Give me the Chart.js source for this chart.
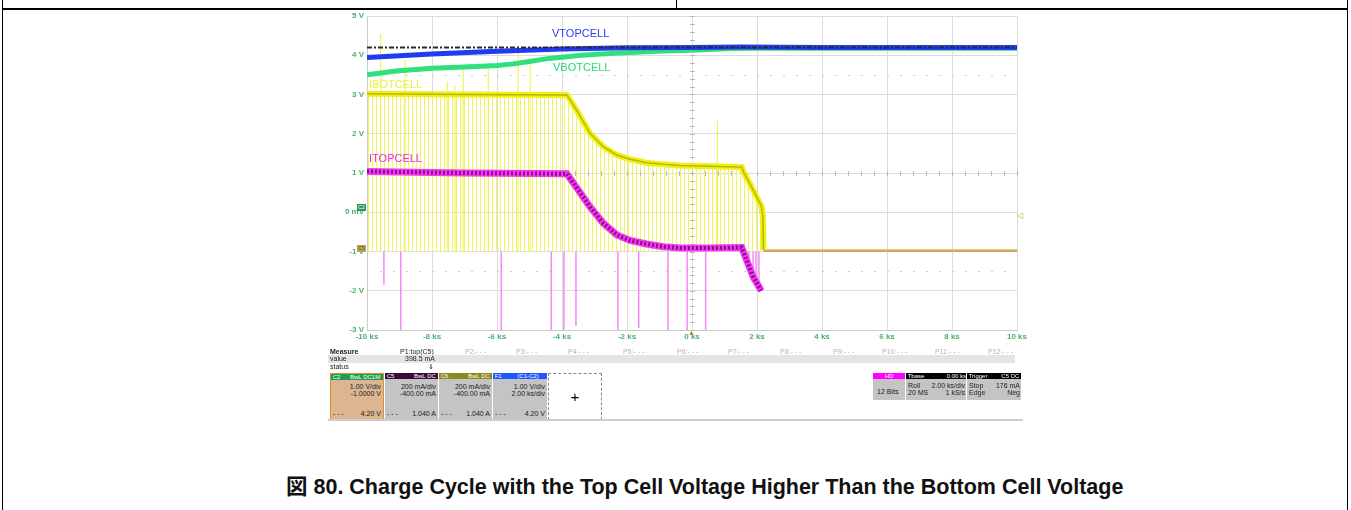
<!DOCTYPE html>
<html>
<head>
<meta charset="utf-8">
<script src="https://cdn.jsdelivr.net/npm/chart.js@4"></script>
<style>
body { margin: 0; background: #fff; font-family: "Liberation Sans", Arial, sans-serif; }
#page { position: relative; width: 1351px; height: 510px; overflow: hidden; }
.abs { position: absolute; white-space: nowrap; }
.line { position: absolute; background: #000; }
.p { position: absolute; white-space: nowrap; font-size: 7px; line-height: 8px; color: #222; }
.g { color: #b0b0b0; }
.box { position: absolute; background: #c4c4c4; }
.hdr { position: absolute; left: 0; top: 0; right: 0; height: 6px; color: #fff; font-size: 6px; line-height: 6px; }
.r { text-align: right; }
.tag { position: absolute; font-size: 11px; line-height: 12px; }
</style>
</head>
<body>
<div id="page">
  <!-- page frame -->
  <div class="line" style="left:2px; top:8px; width:1346px; height:2px;"></div>
  <div class="line" style="left:676px; top:0; width:1px; height:9px;"></div>
  <div class="line" style="left:2px; top:0; width:1px; height:510px;"></div>
  <div class="line" style="left:1347px; top:0; width:1px; height:510px;"></div>

  <div class="abs" style="left:300px; top:0; width:760px; height:350px;">
    <canvas id="scope"></canvas>
  </div>

  <!-- trace names -->
  <div class="tag" style="left:552px; top:27px; color:#2a3cf0;">VTOPCELL</div>
  <div class="tag" style="left:553px; top:61px; color:#2ad878;">VBOTCELL</div>
  <div class="tag" style="left:369px; top:78px; color:#eded3a;">IBOTCELL</div>
  <div class="tag" style="left:369px; top:152px; color:#ea28ea;">ITOPCELL</div>

  <!-- channel markers -->
  <div class="abs" style="left:357px; top:204px; width:9px; height:7px; background:#2a9a55; color:#fff; font-size:5px; line-height:7px; text-align:center;">C2</div>
  <div class="abs" style="left:357px; top:245px; width:9px; height:7px; background:#b5a94a; color:#6a3a6a; font-size:5px; line-height:7px; text-align:center;">C5</div>
  <div class="abs" style="left:1017px; top:211px; color:#b8a84a; font-size:8px;">&#9665;</div>
  <div class="abs" style="left:688px; top:329px; color:#8c8c30; font-size:7px;">&#9650;</div>

  <!-- measurement panel -->
  <div class="p" style="left:330px; top:348px; font-weight:bold;">Measure</div>
  <div class="p" style="left:400px; top:348px;">P1:top(C5)</div>
  <div class="p g" style="left:465px; top:348px;">P2:- - -</div>
  <div class="p g" style="left:516px; top:348px;">P3:- - -</div>
  <div class="p g" style="left:568px; top:348px;">P4:- - -</div>
  <div class="p g" style="left:623px; top:348px;">P5:- - -</div>
  <div class="p g" style="left:677px; top:348px;">P6:- - -</div>
  <div class="p g" style="left:728px; top:348px;">P7:- - -</div>
  <div class="p g" style="left:780px; top:348px;">P8:- - -</div>
  <div class="p g" style="left:833px; top:348px;">P9:- - -</div>
  <div class="p g" style="left:882px; top:348px;">P10:- - -</div>
  <div class="p g" style="left:935px; top:348px;">P11:- - -</div>
  <div class="p g" style="left:988px; top:348px;">P12:- - -</div>
  <div class="abs" style="left:328px; top:355px; width:687px; height:8px; background:#e4e4e4;"></div>
  <div class="p" style="left:330px; top:355px;">value</div>
  <div class="p r" style="left:380px; top:355px; width:55px;">398.5 mA</div>
  <div class="p" style="left:330px; top:363px;">status</div>
  <div class="p" style="left:428px; top:363px;">&#8659;</div>

  <div class="box" style="left:330px; top:373px; width:52px; height:45px; background:#dbb690; border:1px solid #e88a2e;">
    <div class="hdr" style="background:#1f9c4e;">&nbsp;C2 <span style="margin-left:8px;">BwL DC1M</span></div>
    <div class="p r" style="left:0; top:9px; width:50px;">1.00 V/div</div>
    <div class="p r" style="left:0; top:16px; width:50px;">-1.0000 V</div>
    <div class="p" style="left:2px; top:36px;">- - -</div>
    <div class="p r" style="left:0; top:36px; width:50px;">4.20 V</div>
  </div>
  <div class="box" style="left:385px; top:373px; width:53px; height:46px;">
    <div class="hdr" style="background:#3a0c38;">&nbsp;C5 <span style="margin-left:18px;">BwL DC</span></div>
    <div class="p r" style="left:0; top:10px; width:51px;">200 mA/div</div>
    <div class="p r" style="left:0; top:17px; width:51px;">-400.00 mA</div>
    <div class="p" style="left:2px; top:37px;">- - -</div>
    <div class="p r" style="left:0; top:37px; width:51px;">1.040 A</div>
  </div>
  <div class="box" style="left:439px; top:373px; width:53px; height:46px;">
    <div class="hdr" style="background:#8a8a1e;">&nbsp;C6 <span style="margin-left:18px;">BwL DC</span></div>
    <div class="p r" style="left:0; top:10px; width:51px;">200 mA/div</div>
    <div class="p r" style="left:0; top:17px; width:51px;">-400.00 mA</div>
    <div class="p" style="left:2px; top:37px;">- - -</div>
    <div class="p r" style="left:0; top:37px; width:51px;">1.040 A</div>
  </div>
  <div class="box" style="left:493px; top:373px; width:54px; height:46px;">
    <div class="hdr" style="background:#2058ff;">&nbsp;F1 <span style="margin-left:14px;">(C1-C2)</span></div>
    <div class="p r" style="left:0; top:10px; width:52px;">1.00 V/div</div>
    <div class="p r" style="left:0; top:17px; width:52px;">2.00 ks/div</div>
    <div class="p" style="left:2px; top:37px;">- - -</div>
    <div class="p r" style="left:0; top:37px; width:52px;">4.20 V</div>
  </div>
  <div class="abs" style="left:548px; top:373px; width:52px; height:45px; border:1px dashed #888; background:#fff; text-align:center; font-size:15px; line-height:45px;">+</div>

  <div class="box" style="left:873px; top:373px; width:32px; height:27px;">
    <div class="hdr" style="background:#ff00ff; text-align:center;">HD</div>
    <div class="p" style="left:4px; top:15px;">12 Bits</div>
  </div>
  <div class="box" style="left:906px; top:373px; width:60px; height:27px;">
    <div class="hdr" style="background:#000;">&nbsp;Tbase <span style="float:right;">0.00 ks</span></div>
    <div class="p" style="left:2px; top:9px;">Roll</div>
    <div class="p r" style="left:0; top:9px; width:59px;">2.00 ks/div</div>
    <div class="p" style="left:2px; top:16px;">20 MS</div>
    <div class="p r" style="left:0; top:16px; width:59px;">1 kS/s</div>
  </div>
  <div class="box" style="left:967px; top:373px; width:54px; height:27px;">
    <div class="hdr" style="background:#000;">&nbsp;Trigger <span style="float:right;">C5 DC&nbsp;</span></div>
    <div class="p" style="left:2px; top:9px;">Stop</div>
    <div class="p r" style="left:0; top:9px; width:53px;">176 mA</div>
    <div class="p" style="left:2px; top:16px;">Edge</div>
    <div class="p r" style="left:0; top:16px; width:53px;">Neg</div>
  </div>
  <div class="abs" style="left:328px; top:419px; width:695px; height:2px; background:#cccccc;"></div>

  <!-- caption -->
  <div class="abs" style="left:286px; top:475px; font-size:21.5px; line-height:24px; font-weight:bold; color:#111; font-family:'Liberation Sans','Noto Sans CJK JP',sans-serif;">図 80. Charge Cycle with the Top Cell Voltage Higher Than the Bottom Cell Voltage</div>
</div>

<script>
// axis ticks
const timeTicks = [-10, -8, -6, -4, -2, 0, 2, 4, 6, 8, 10];
const voltTicks = [-3, -2, -1, 0, 1, 2, 3, 4, 5];

// reference level (dash-dot)
const refTime = [-10, 10];
const refVolts = [4.2, 4.2];

// VTOPCELL
const vTopTime = [-10, -8, -6, -4, -2, 0, 1.5, 4, 10];
const vTopVolts = [3.94, 4.03, 4.10, 4.16, 4.19, 4.2, 4.21, 4.2, 4.2];

// VBOTCELL
const vBotTime = [-10, -9.1, -8, -7, -6, -5.5, -5, -4.4, -3.4, -2.4, -0.9, 0, 1.2, 2, 4, 10];
const vBotVolts = [3.50, 3.60, 3.67, 3.70, 3.74, 3.78, 3.84, 3.92, 4.00, 4.05, 4.11, 4.13, 4.17, 4.18, 4.18, 4.18];

// IBOTCELL
const iBotTime = [-10, -7, -3.85, -3.55, -3.14, -2.73, -2.32, -1.9, -1.4, -0.9, -0.37, 0.5, 1.53, 1.57, 1.88, 2.14, 2.18, 2.2];
const iBotVolts = [3.02, 3.0, 2.99, 2.6, 2.01, 1.67, 1.46, 1.35, 1.26, 1.22, 1.19, 1.17, 1.15, 1.05, 0.57, 0.15, -0.1, -0.96];
const iBotTailTime = [2.2, 10];
const iBotTailVolts = [-0.97, -0.97];

// ITOPCELL
const iTopTime = [-10, -7, -3.85, -3.57, -3.14, -2.73, -2.31, -1.9, -1.4, -0.88, -0.37, 0.5, 1.53, 1.7, 1.88, 2.13];
const iTopVolts = [1.04, 1.0, 0.98, 0.65, 0.14, -0.28, -0.58, -0.72, -0.81, -0.88, -0.91, -0.91, -0.9, -1.26, -1.64, -2.0];
const iTopTailTime = [2.2, 10];
const iTopTailVolts = [-0.99, -0.99];

// glitches
const spikeBase = -1;
const pinkSpikeTime = [-9.48, -8.96, -5.87, -4.33, -3.94, -3.57, -2.28, -1.64, -0.74, -0.15, 0.42, 1.75, 1.88, 1.97, 2.06];
const pinkSpikeLow = [-1.85, -3.0, -3.0, -3.0, -3.0, -2.9, -3.0, -2.95, -3.0, -3.0, -3.0, -1.5, -1.7, -1.75, -1.8];
const yellowSpikeTime = [-9.58, -8.83, -7.53, -7.29, -7.04, -6.27, -5.35, -4.98, 0.78];
const yellowSpikeTop = [4.54, 3.88, 3.33, 3.24, 3.69, 3.79, 4.18, 3.79, 2.35];

const pts = (xs, ys) => xs.map((x, i) => ({ x: x, y: ys[i] }));
const spikes = (xs, ends) => {
    const out = [];
    xs.forEach((x, i) => {
        out.push({ x: x, y: spikeBase }, { x: x, y: ends[i] }, { x: x, y: null });
    });
    return out;
};

// vertical hatch under the bottom-cell current trace
const stripe = document.createElement('canvas');
stripe.width = 4;
stripe.height = 4;
const sctx = stripe.getContext('2d');
sctx.fillStyle = '#f3f35a';
sctx.fillRect(0, 0, 1, 4);
const stripePattern = sctx.createPattern(stripe, 'repeat');

const tickGreen = '#4cae6c';
const fontFamily = "'Liberation Sans', Arial, sans-serif";

// center-line ticks and dotted rows like the scope graticule
const scopeGrid = {
    id: 'scopeGrid',
    beforeDatasetsDraw(chart) {
        const { ctx, scales: { x, y } } = chart;
        ctx.save();
        ctx.fillStyle = '#b8b8b8';
        const x0 = Math.round(x.getPixelForValue(0));
        const y1 = Math.round(y.getPixelForValue(1));
        for (let v = -3; v <= 5.001; v += 0.2) {
            ctx.fillRect(x0 - 2, Math.round(y.getPixelForValue(v)), 5, 1);
        }
        for (let t = -10; t <= 10.001; t += 0.4) {
            ctx.fillRect(Math.round(x.getPixelForValue(t)), y1 - 2, 1, 5);
        }
        ctx.fillStyle = '#cfcfcf';
        [3.5, -1.5].forEach(v => {
            const py = Math.round(y.getPixelForValue(v));
            for (let t = -9.6; t <= 10; t += 0.4) {
                ctx.fillRect(Math.round(x.getPixelForValue(t)), py, 2, 1);
            }
        });
        ctx.restore();
    }
};

const lineBase = { pointRadius: 0, tension: 0, fill: false, spanGaps: false, borderCapStyle: 'butt' };

new Chart(document.getElementById('scope'), {
    type: 'line',
    data: {
        datasets: [
            Object.assign({ data: pts(refTime, refVolts), borderColor: '#2a2a2a', borderWidth: 2, borderDash: [5, 2, 2, 2] }, lineBase),
            Object.assign({ data: pts(vTopTime, vTopVolts), borderColor: '#1f3cf2', borderWidth: 5 }, lineBase),
            Object.assign({ data: pts(vBotTime, vBotVolts), borderColor: '#2fe07c', borderWidth: 5 }, lineBase),
            Object.assign({ data: pts(iBotTime, iBotVolts), borderColor: '#b7b700', borderWidth: 1.5 }, lineBase),
            Object.assign({}, lineBase, { data: pts(iBotTime, iBotVolts), borderColor: '#f0f018', borderWidth: 6, fill: { value: spikeBase }, backgroundColor: stripePattern }),
            Object.assign({ data: pts(iBotTailTime, iBotTailVolts), borderColor: '#c4c428', borderWidth: 2 }, lineBase),
            Object.assign({ data: pts(iTopTime, iTopVolts), borderColor: '#98009a', borderWidth: 4, borderDash: [2, 2] }, lineBase),
            Object.assign({ data: pts(iTopTime, iTopVolts), borderColor: '#ee3cee', borderWidth: 7 }, lineBase),
            Object.assign({ data: pts(iTopTailTime, iTopTailVolts), borderColor: '#e456e4', borderWidth: 1.5 }, lineBase),
            Object.assign({ data: spikes(pinkSpikeTime, pinkSpikeLow), borderColor: '#f28af2', borderWidth: 1.5 }, lineBase),
            Object.assign({ data: spikes(yellowSpikeTime, yellowSpikeTop), borderColor: '#f0f040', borderWidth: 1 }, lineBase)
        ]
    },
    options: {
        responsive: true,
        maintainAspectRatio: false,
        animation: false,
        layout: { padding: { left: 0, top: 16, right: 43, bottom: 0 } },
        plugins: {
            legend: { display: false },
            tooltip: { enabled: false },
            filler: { drawTime: 'beforeDatasetsDraw' }
        },
        scales: {
            x: {
                type: 'linear',
                min: timeTicks[0],
                max: timeTicks[timeTicks.length - 1],
                afterBuildTicks: scale => { scale.ticks = timeTicks.map(v => ({ value: v })); },
                afterFit: scale => { scale.height = 20; },
                ticks: {
                    callback: v => v + ' ks',
                    color: tickGreen,
                    font: { size: 8, weight: 'bold', family: fontFamily },
                    padding: 2,
                    maxRotation: 0,
                    autoSkip: false
                },
                grid: { color: '#dcdcdc', drawTicks: false },
                border: { color: '#cccccc' }
            },
            y: {
                min: voltTicks[0],
                max: voltTicks[voltTicks.length - 1],
                afterBuildTicks: scale => { scale.ticks = voltTicks.map(v => ({ value: v })); },
                afterFit: scale => { scale.width = 67; },
                ticks: {
                    callback: v => (v === 0 ? '0 mV' : v + ' V'),
                    color: tickGreen,
                    font: { size: 8, weight: 'bold', family: fontFamily },
                    padding: 3
                },
                grid: { color: '#dcdcdc', drawTicks: false },
                border: { color: '#cccccc' }
            }
        }
    },
    plugins: [scopeGrid]
});
</script>
</body>
</html>
